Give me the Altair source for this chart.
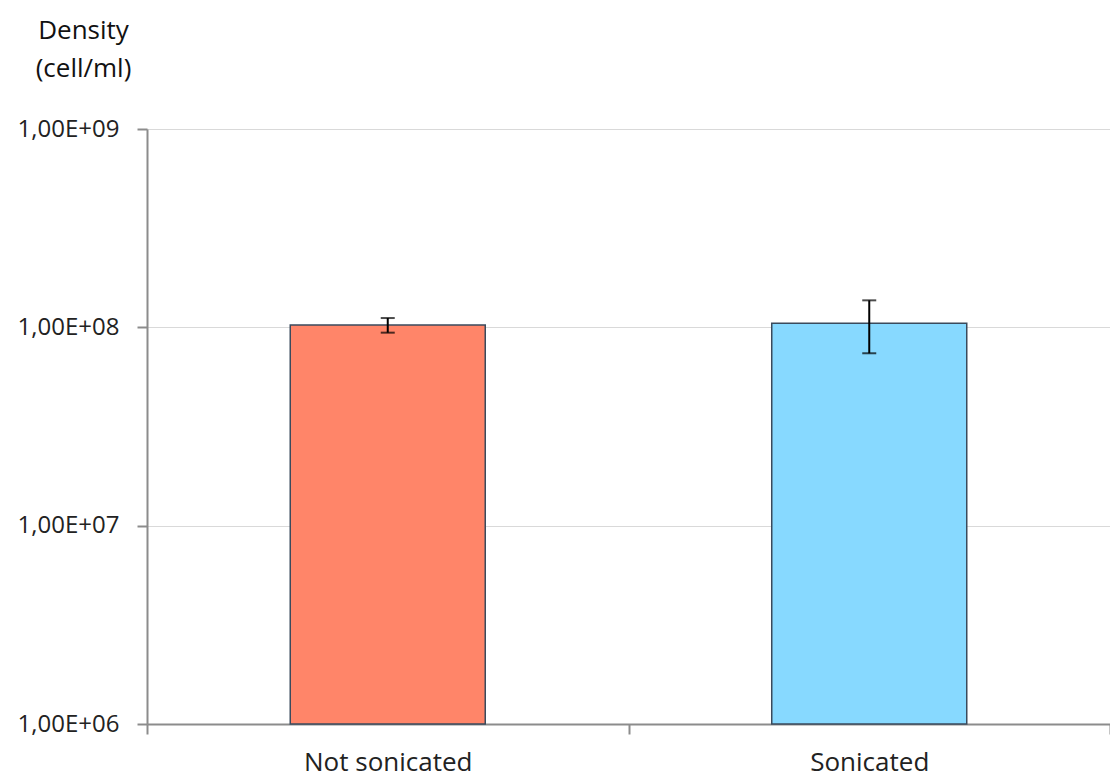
import altair as alt
import pandas as pd

categories = ["Not sonicated", "Sonicated"]
density = [1.027e8, 1.048e8]
err_low = [0.94e8, 0.74e8]
err_high = [1.114e8, 1.368e8]
colors = ["#FF8569", "#87D9FF"]
y_ticks = [1e6, 1e7, 1e8, 1e9]
y_floor = 1e6

df = pd.DataFrame({"cat": categories, "density": density,
                   "lo": err_low, "hi": err_high,
                   "base": [y_floor] * len(categories)})

FONT = "Open Sans"

x_scale = alt.Scale(domain=categories, paddingInner=0, paddingOuter=0)
x_enc = alt.X("cat:N", sort=categories, scale=x_scale,
              axis=alt.Axis(title=None, labelAngle=0, labelFontSize=26,
                            labelColor="#222", labelFont=FONT,
                            labelPadding=15, tickBand="extent",
                            tickSize=10, tickColor="#8c8c8c", tickWidth=2,
                            domainColor="#8c8c8c", domainWidth=2))

y_scale = alt.Scale(type="log", domain=[1e6, 1e9])

bars = alt.Chart(df).mark_bar(stroke="#3a4a5c", strokeWidth=1.5,
                              width=alt.RelativeBandSize(0.405)).encode(
    x=x_enc,
    y=alt.Y("density:Q", scale=y_scale,
            axis=alt.Axis(values=y_ticks, title=["Density", "(cell/ml)"],
                          titleAngle=0, titleAlign="center",
                          titleBaseline="top", titleX=-64, titleY=-112,
                          titleFontSize=26, titleFont=FONT,
                          titleFontWeight="normal", titleColor="#111",
                          titleLineHeight=38,
                          labelExpr="'1,00E+0' + round(log(datum.value)/LN10)",
                          labelFontSize=24, labelFont=FONT, labelColor="#222",
                          labelPadding=18, tickSize=10, tickColor="#8c8c8c",
                          tickWidth=2, domainColor="#8c8c8c", domainWidth=2,
                          grid=True, gridColor="#d9d9d9", gridWidth=1)),
    y2="base:Q",
    color=alt.Color("cat:N", scale=alt.Scale(domain=categories, range=colors),
                    legend=None),
)

rules = alt.Chart(df).mark_rule(color="black", strokeWidth=2).encode(
    x=alt.X("cat:N", sort=categories, scale=x_scale),
    y=alt.Y("lo:Q", scale=y_scale),
    y2="hi:Q",
)

caps_lo = alt.Chart(df).mark_tick(color="black", thickness=2, size=14,
                                  orient="horizontal").encode(
    x=alt.X("cat:N", sort=categories, scale=x_scale),
    y=alt.Y("lo:Q", scale=y_scale),
)
caps_hi = alt.Chart(df).mark_tick(color="black", thickness=2, size=14,
                                  orient="horizontal").encode(
    x=alt.X("cat:N", sort=categories, scale=x_scale),
    y=alt.Y("hi:Q", scale=y_scale),
)

chart = alt.layer(bars, rules, caps_lo, caps_hi).properties(
    width=963, height=595,
    autosize=alt.AutoSizeParams(type="none"),
    padding={"left": 139, "top": 121, "right": 0, "bottom": 54},
).configure_view(stroke=None).configure(background="white")

chart.save("out.html", embed_options={"renderer": "svg", "actions": False})
